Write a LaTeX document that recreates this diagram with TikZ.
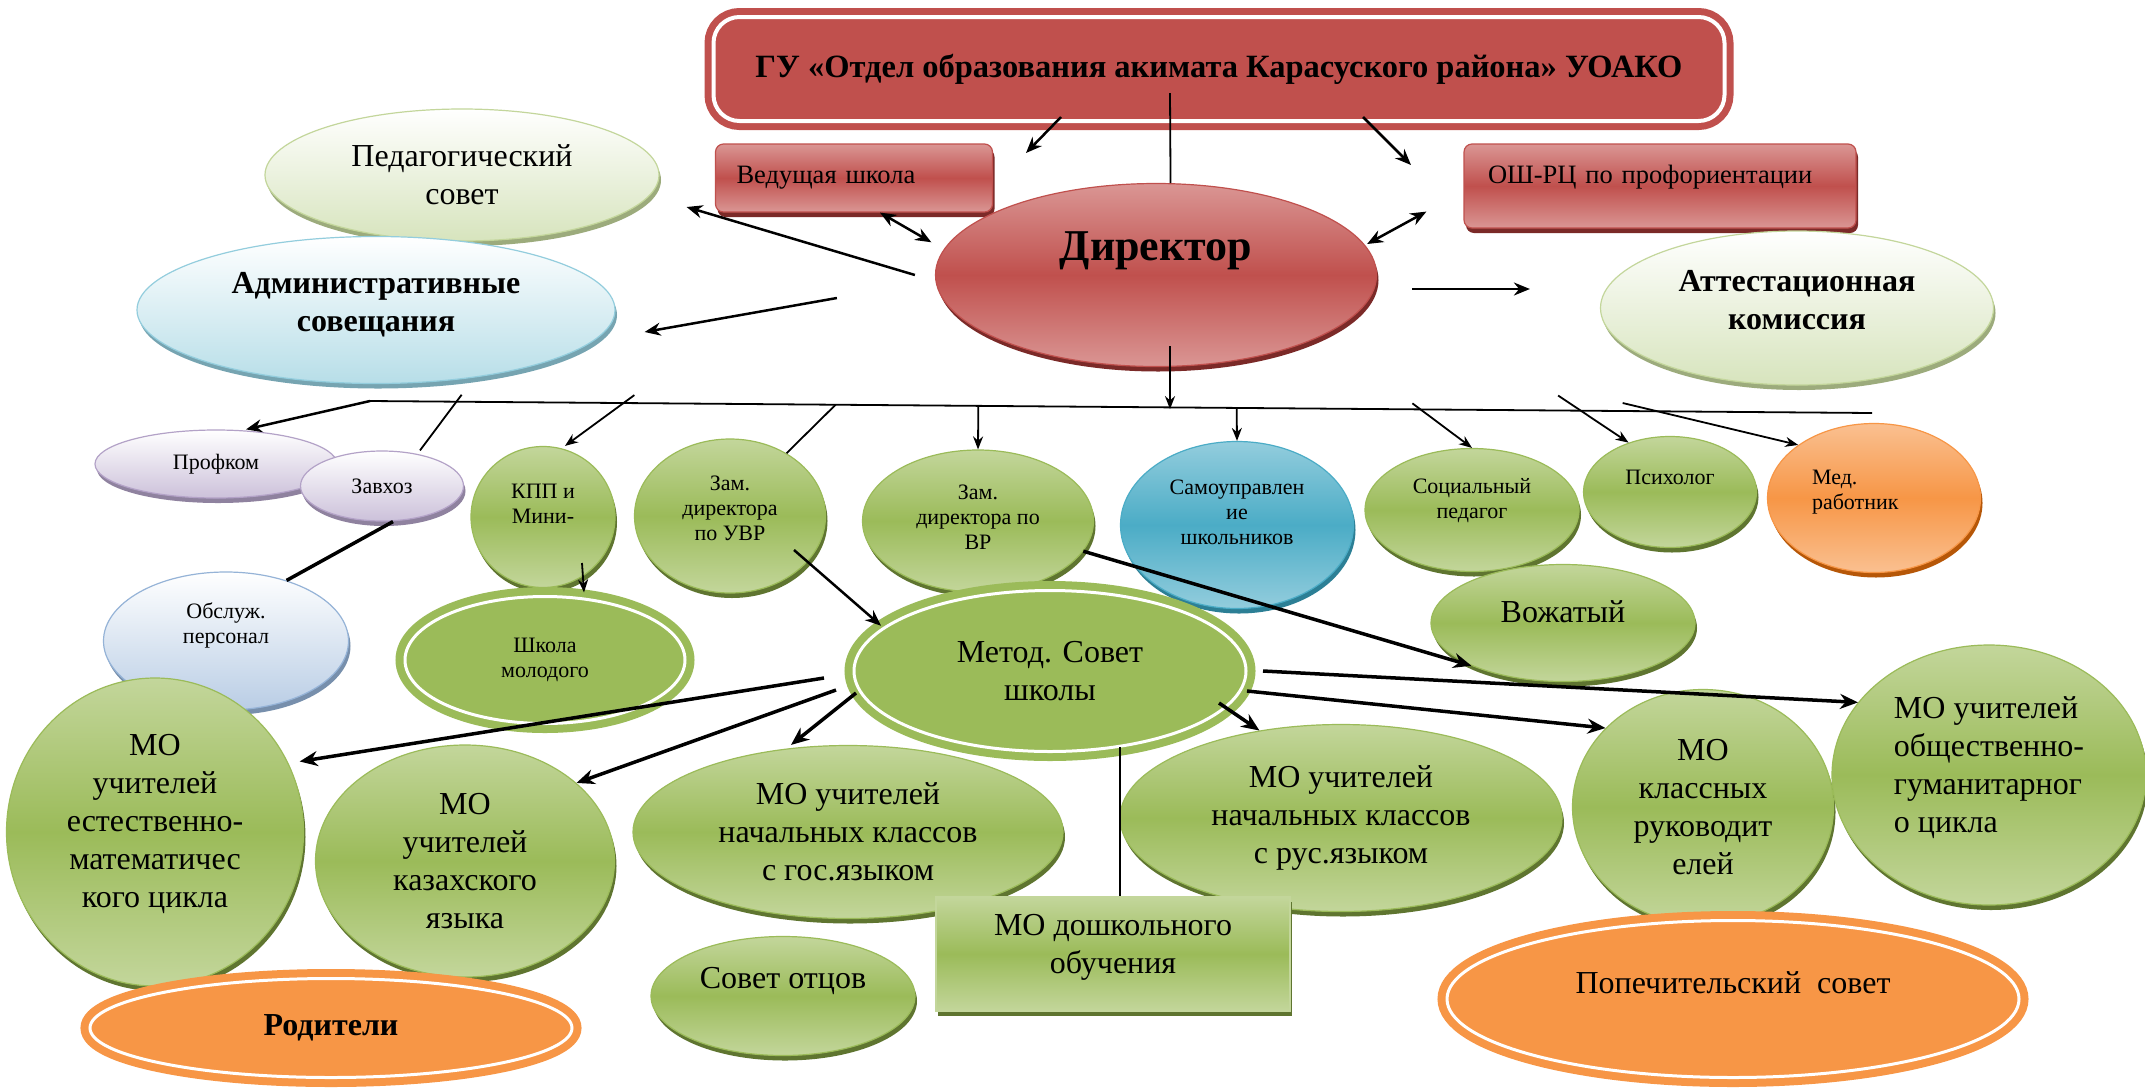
\documentclass[tikz,border=0pt]{standalone}
\usepackage{fontspec}
\setmainfont{Liberation Serif}
\usetikzlibrary{shapes.geometric, shadows, arrows.meta, calc}

\definecolor{rd}{HTML}{C0504D}
\definecolor{rdL}{HTML}{DA9694}
\definecolor{rdD}{HTML}{7B2A28}
\definecolor{gr}{HTML}{9BBB59}
\definecolor{grL}{HTML}{C3D69B}
\definecolor{grD}{HTML}{5F7530}
\definecolor{bl}{HTML}{4BACC6}
\definecolor{blL}{HTML}{93CDDD}
\definecolor{blD}{HTML}{2C7F95}
\definecolor{og}{HTML}{F79646}
\definecolor{ogL}{HTML}{FAC090}
\definecolor{ogD}{HTML}{B65708}
\definecolor{lvL}{HTML}{CCC1DA}
\definecolor{lvB}{HTML}{B3A2C7}
\definecolor{cyL}{HTML}{B7DEE8}
\definecolor{cyB}{HTML}{93CDDD}
\definecolor{pbL}{HTML}{B9CDE5}
\definecolor{pbB}{HTML}{95B3D7}
\definecolor{lgL}{HTML}{D7E4BD}
\definecolor{lgB}{HTML}{C3D69B}

\newcommand{\szT}{\fontsize{32.5}{38}\selectfont\bfseries}
\newcommand{\szD}{\fontsize{44}{52}\selectfont\bfseries}
\newcommand{\szL}{\fontsize{32}{38}\selectfont}
\newcommand{\szM}{\fontsize{26.5}{31}\selectfont}
\newcommand{\szS}{\fontsize{22}{25}\selectfont}

\begin{document}
\begin{tikzpicture}[x=1pt, y=-1pt,
	shd/.style={drop shadow={shadow xshift=2pt, shadow yshift=-5pt, fill=#1, opacity=1}},
	gloss/.style n args={3}{draw=#1, top color=#2, bottom color=#2, middle color=#1, shd=#3},
	pale/.style n args={3}{draw=#2, top color=white, bottom color=#1, shd=#3},
	ell/.style={ellipse, inner sep=0pt, align=center, line width=1.2pt},
	grnell/.style={gloss={gr}{grL}{grD}},
	redgl/.style={gloss={rd}{rdL}{rdD}},
	blgl/.style={gloss={bl}{blL}{blD}},
	oggl/.style={gloss={og}{ogL}{ogD}},
	lgpale/.style={pale={lgL}{lgB}{lgB!80!black}},
	cypale/.style={pale={cyL}{cyB}{cyB!80!black}},
	lvpale/.style={pale={lvL}{lvB}{lvB!80!black}},
	pbpale/.style={pale={pbL}{pbB}{pbB!80!black}},
	dring/.style={draw=#1, fill=#1, line width=8pt, double=white, double distance=3pt},
	gubox/.style={rectangle, rounded corners=26pt, draw=rd, fill=rd, line width=7pt, double=white, double distance=4pt},
	redbox/.style={rectangle, rounded corners=8pt, line width=1.2pt, align=left, redgl},
	grnbox/.style={rectangle, align=center, line width=1.2pt, draw=grL, top color=grL, bottom color=grL, middle color=gr, shd=grD},
	arr/.style={-{Stealth[length=16pt,width=13pt]}, line width=2.5pt},
	arrB/.style={-{Stealth[length=18pt,width=15pt]}, line width=3.5pt},
	arrS/.style={-{Stealth[length=13pt,width=10pt]}, line width=1.8pt},
	darr/.style={{Stealth[length=16pt,width=13pt]}-{Stealth[length=16pt,width=13pt]}, line width=2.5pt},
	ln/.style={line width=1.8pt},
	lnB/.style={line width=3.5pt}]

	\path[use as bounding box, fill=white] (0,0) rectangle (2145,1088);

	\node[ell, lgpale, minimum width=394pt, minimum height=132pt, font=\szL] (ped) at (462,175) {Педагогический\\совет};
	\node[ell, cypale, minimum width=478pt, minimum height=147pt, font=\szL\bfseries, text depth=16pt] (adm) at (376,310) {Административные\\совещания};
	\node[gubox, minimum width=1011pt, minimum height=104pt, font=\szT] (gu) at (1219,69) {ГУ «Отдел образования акимата Карасуского района» УОАКО};
	\node[redbox, minimum height=68pt, text width=235pt, inner xsep=21pt, font=\szM] (ved) at (854,178) {Ведущая школа};
	\node[redbox, minimum height=84pt, text width=344pt, inner xsep=24pt, font=\szM, text depth=24pt] (osh) at (1660,186) {ОШ-РЦ по профориентации};
	\node[ell, redgl, minimum width=441pt, minimum height=183pt, font=\szD, text depth=57pt] (dir) at (1156,275) {Директор};
	\node[ell, lgpale, minimum width=393pt, minimum height=154pt, font=\szL\bfseries, text depth=16pt] (att) at (1797,308) {Аттестационная\\комиссия};

	\node[ell, lvpale, minimum width=242pt, minimum height=68pt, font=\szS] (prof) at (216,464) {Профком};
	\node[ell, lvpale, minimum width=163pt, minimum height=70pt, font=\szS] (zav) at (382,486) {Завхоз};
	\node[ell, pbpale, minimum width=245pt, minimum height=138pt, font=\szS, text depth=36pt] (obs) at (226,641) {Обслуж.\\персонал};
	\node[ell, grnell, minimum width=144pt, minimum height=141pt, font=\szS, text depth=27pt] (kpp) at (543,517) {КПП и\\Мини-};
	\node[ell, grnell, minimum width=191pt, minimum height=154pt, font=\szS, text depth=16pt] (uvr) at (730,516) {Зам.\\директора\\по УВР};
	\node[ell, grnell, minimum width=231pt, minimum height=142pt, font=\szS, text depth=8pt] (vr) at (978,521) {Зам.\\директора по\\ВР};
	\node[ell, blgl, minimum width=233pt, minimum height=167pt, font=\szS, text depth=26pt] (sam) at (1237,525) {Самоуправлен\\ие\\школьников};
	\node[ell, grnell, minimum width=214pt, minimum height=123pt, font=\szS, text depth=23pt] (soc) at (1472,510) {Социальный\\педагог};
	\node[ell, grnell, minimum width=173pt, minimum height=111pt, font=\szS, text depth=30pt] (psy) at (1670,492) {Психолог};
	\node[ell, oggl, minimum width=213pt, minimum height=149pt, font=\szS, align=left, text width=124pt, text depth=42pt] (med) at (1874,498) {Мед.\\работник};
	\node[ell, grnell, minimum width=264pt, minimum height=117pt, font=\szL, text depth=22pt] (voz) at (1563,623) {Вожатый};

	\node[ell, dring=gr, minimum width=392pt, minimum height=161pt, font=\szL] (met) at (1050,671) {Метод. Совет\\школы};
	\node[ell, dring=gr, minimum width=280pt, minimum height=127pt, font=\szS] (shm) at (545,660) {Школа\\молодого};

	\node[ell, grnell, minimum width=297pt, minimum height=308pt, font=\szL, text depth=22pt] (moe) at (155,832) {МО\\учителей\\естественно-\\математичес\\кого цикла};
	\node[ell, grnell, minimum width=299pt, minimum height=232pt, font=\szL] (mok) at (465,861) {МО\\учителей\\казахского\\языка};
	\node[ell, grnell, minimum width=430pt, minimum height=173pt, font=\szL] (mog) at (848,832) {МО учителей\\начальных классов\\с гос.языком};
	\node[ell, grnell, minimum width=442pt, minimum height=187pt, font=\szL] (mor) at (1341,818) {МО учителей\\начальных классов\\с рус.языком};
	\node[ell, grnell, minimum width=261pt, minimum height=235pt, font=\szL] (mkl) at (1703,807) {МО\\классных\\руководит\\елей};
	\node[ell, grnell, minimum width=314pt, minimum height=260pt, font=\szL, align=left, text depth=21pt] (mob) at (1989,775) {МО учителей\\общественно-\\гуманитарног\\о цикла};
	\node[ell, grnell, minimum width=264pt, minimum height=119pt, font=\szL, text depth=36pt] (sot) at (783,996) {Совет отцов};
	\node[grnbox, minimum width=354pt, minimum height=114pt, font=\szL, text depth=20pt] (mdo) at (1113,954) {МО дошкольного\\обучения};
	\node[ell, dring=og, minimum width=482pt, minimum height=99pt, font=\szL\bfseries] (rod) at (331,1028) {Родители};
	\node[ell, dring=og, minimum width=572pt, minimum height=157pt, font=\szL, text depth=32pt] (pop) at (1733,999) {Попечительский\ \ совет};

	\draw[ln] ([xshift=-49pt,yshift=-24pt]gu.center) -- (dir.81);
	\draw[arr] ([xshift=-158pt,yshift=-48pt]gu.center) -- ([xshift=172pt,yshift=25pt]ved.center);
	\draw[arr] ([xshift=144pt,yshift=-48pt]gu.center) -- ([xshift=-249pt,yshift=21pt]osh.center);
	\draw[darr] ([xshift=26pt]ved.south) -- ([xshift=-18pt]dir.171);
	\draw[darr] ([xshift=-10pt,yshift=31pt]dir.east) -- ([xshift=-37pt,yshift=17pt]osh.south west);
	\draw[arr] ([xshift=-20pt]dir.west) -- ([xshift=27pt,yshift=-32pt]ped.east);
	\draw[arr] ([xshift=-98pt,yshift=-23pt]dir.west) -- ([xshift=29pt,yshift=-22pt]adm.east);
	\draw[arr] ([xshift=35pt,yshift=-14pt]dir.east) -- ([xshift=-70pt,yshift=19pt]att.west);

	\coordinate (bus1) at (370,401);
	\coordinate (bus2) at (1872,413);
	\draw[ln] (bus1) -- (bus2);
	\draw[arrS] ([xshift=14pt,yshift=21pt]dir.south) -- ++(0,63);
	\draw[arr] (bus1) -- ([xshift=30pt]prof.north);
	\draw[ln] ($(bus1)!0.061!(bus2)+(0,-7)$) -- ([xshift=38pt]zav.north);
	\draw[arrS] ($(bus1)!0.176!(bus2)+(0,-8)$) -- ([xshift=22pt]kpp.north);
	\draw[ln] ($(bus1)!0.31!(bus2)$) -- (uvr.48);
	\draw[arrS] ($(bus1)!0.405!(bus2)$) -- (vr.north);
	\draw[arrS] ($(bus1)!0.577!(bus2)$) -- (sam.north);
	\draw[arrS] ($(bus1)!0.694!(bus2)+(0,-6)$) -- (soc.north);
	\draw[arrS] ($(bus1)!0.791!(bus2)+(0,-15)$) -- (psy.130);
	\draw[arrS] ($(bus1)!0.834!(bus2)+(0,-8)$) -- (med.145);

	\draw[lnB] ([xshift=11pt]zav.south) -- (obs.45);
	\draw[arrS] ([xshift=39pt,yshift=-46pt]kpp.center) -- ([xshift=39pt]shm.north);
	\draw[arr] ([xshift=64pt,yshift=-34pt]uvr.center) -- (met.165);
	\draw[arrB] (vr.-16) -- (voz.205);

	\draw[arrB] ([xshift=-226pt,yshift=-7pt]met.center) -- ([xshift=12pt]moe.28);
	\draw[arrB] ([xshift=-214pt,yshift=-19pt]met.center) -- (mok.35);
	\draw[arrB] ([xshift=-194pt,yshift=-22pt]met.center) -- ([xshift=-57pt]mog.north);
	\draw[arrB] ([xshift=169pt,yshift=-32pt]met.center) -- (mor.133);
	\draw[arrB] ([xshift=197pt,yshift=-20pt]met.center) -- (mkl.141);
	\draw[arrB] ([xshift=213pt]met.center) -- (mob.151);
	\draw[ln] ([xshift=70pt,yshift=-76pt]met.center) -- ([xshift=7pt]mdo.north);
\end{tikzpicture}
\end{document}
